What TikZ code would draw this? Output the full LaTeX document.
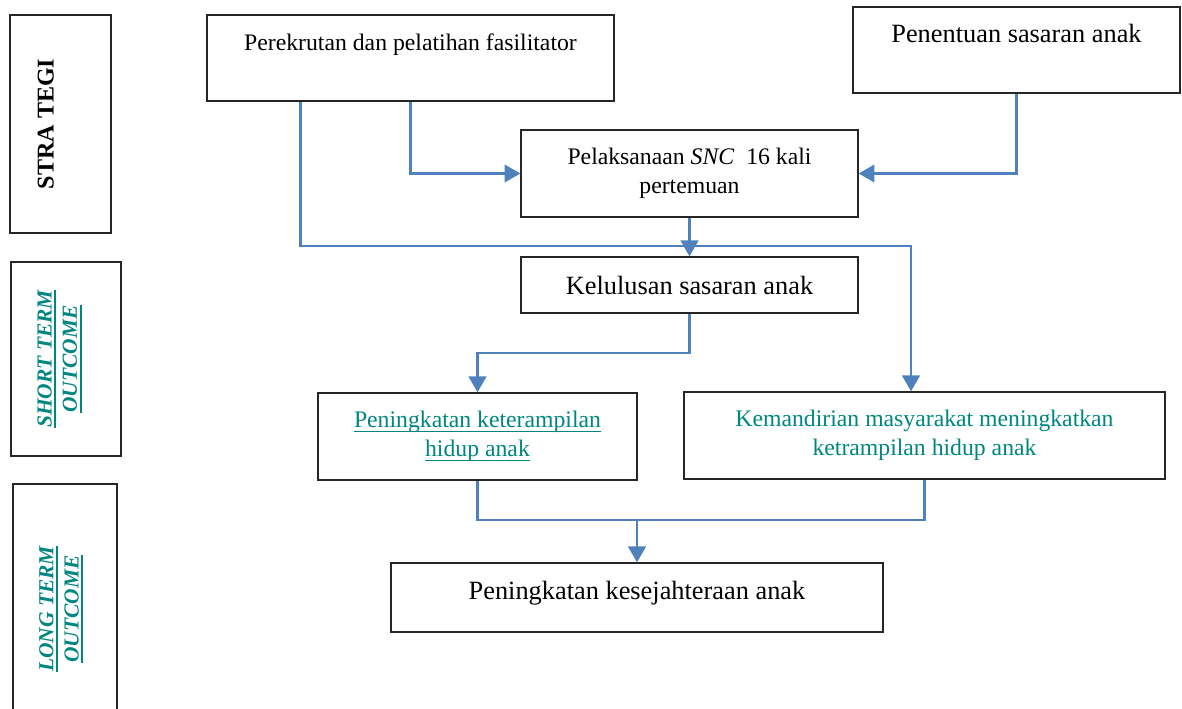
\documentclass[tikz,border=0pt]{standalone}
\usepackage{fontspec}
\setmainfont{Liberation Serif}
\usepackage{xcolor}
\usepackage{tikz}
\usetikzlibrary{arrows.meta}

\definecolor{flowblue}{RGB}{79,129,189}
\definecolor{outteal}{RGB}{0,134,128}
\newcommand{\ulthick}[1]{\setbox0=\hbox{#1}\rlap{\raisebox{-2.6pt}{\rule{\wd0}{1pt}}}\box0}

\begin{document}
\begin{tikzpicture}[x=0.02cm, y=-0.02cm,
	box/.style={draw=black!85, line width=0.8pt, align=center, inner sep=2pt, font=\fontsize{13.5}{16.5}\selectfont},
	bigbox/.style={box, font=\fontsize{15}{18}\selectfont},
	sidebox/.style={draw=black!85, line width=0.8pt, rotate=90, align=center, inner sep=0pt},
	outlabel/.style={sidebox, text=outteal, font=\fontsize{12.2}{14.4}\selectfont\bfseries\itshape},
	flow/.style={draw=flowblue, line width=1.4pt},
	tip/.style={flow, -{Triangle[width=10pt,length=9pt]}}]
	\useasboundingbox (0,0) rectangle (1182,709);
	\clip (0,0) rectangle (1182,709);

	% side labels
	\node[sidebox, minimum width=4.36cm, minimum height=2.02cm, text depth=17pt, font=\fontsize{13.7}{16}\selectfont\bfseries] (strategi) at (60.5,124) {STRA TEGI};
	\node[outlabel, minimum width=3.88cm, minimum height=2.2cm, text depth=10pt] (pendek) at (66,359) {\ulthick{SHORT TERM}\\\ulthick{OUTCOME}};
	\node[outlabel, minimum width=5cm, minimum height=2.08cm, text depth=7pt] (panjang) at (65,609) {\ulthick{LONG TERM}\\\ulthick{OUTCOME}};

	% boxes
	\node[box, minimum width=8.14cm, minimum height=1.72cm, text depth=18pt] (rekrut) at (410.5,58) {Perekrutan dan pelatihan fasilitator};
	\node[bigbox, minimum width=6.54cm, minimum height=1.72cm, text depth=19pt] (tentu) at (1016.5,50) {Penentuan sasaran anak};
	\node[box, minimum width=6.74cm, minimum height=1.74cm] (snc) at (689.5,173.5) {Pelaksanaan \textit{SNC}\ \ 16 kali\\pertemuan};
	\node[bigbox, minimum width=6.74cm, minimum height=1.12cm] (lulus) at (689.5,285) {Kelulusan sasaran anak};
	\node[box, text=outteal, minimum width=6.38cm, minimum height=1.74cm] (terampil) at (477.5,436.5) {\ulthick{Peningkatan keterampilan}\\\ulthick{hidup anak}};
	\node[box, text=outteal, minimum width=9.62cm, minimum height=1.74cm] (mandiri) at (924.5,435.5) {Kemandirian masyarakat meningkatkan\\ketrampilan hidup anak};
	\node[bigbox, minimum width=9.84cm, minimum height=1.38cm, text depth=8pt] (sejahtera) at (637,597.5) {Peningkatan kesejahteraan anak};

	\coordinate (bus) at (689,246);
	\coordinate (split) at (689,353);
	\coordinate (merge) at (637,520);

	% connectors
	\draw[tip] (rekrut.south) |- (snc.west);
	\draw[tip] (tentu.south) |- (snc.east);
	\draw[tip] (snc) -- (lulus);
	\draw[tip] ([xshift=-2.2cm]rekrut.south) |- (bus) -| ([xshift=-0.27cm]mandiri.north);
	\draw[tip] (lulus.south) |- (split) -| (terampil.north);
	\draw[flow] (terampil.south) |- (merge) -| (mandiri.south);
	\draw[tip] (merge) -- (sejahtera.north);

\end{tikzpicture}
\end{document}
